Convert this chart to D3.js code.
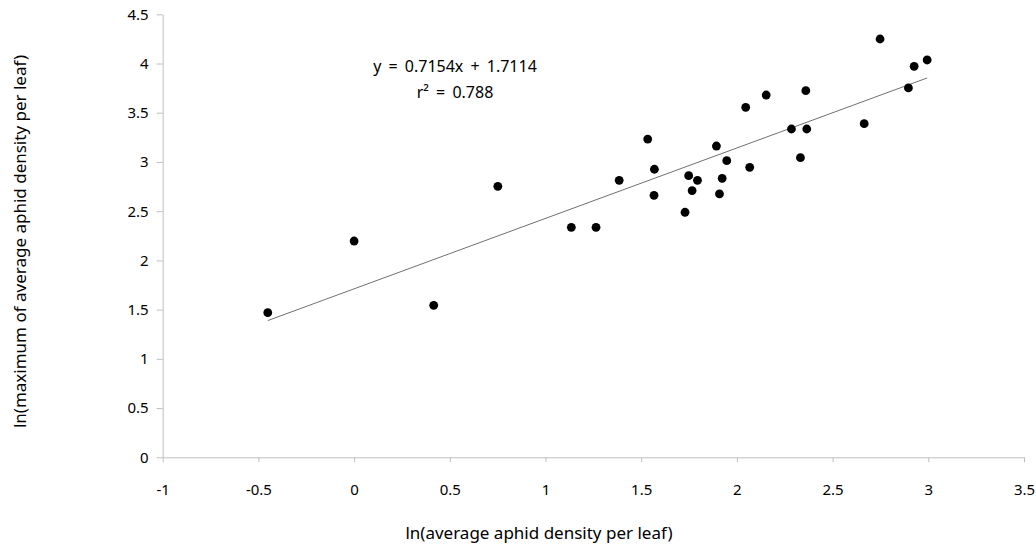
<!DOCTYPE html>
<html>
<head>
<meta charset="utf-8">
<script src="https://cdn.jsdelivr.net/npm/d3@7"></script>
<style>
  html, body { margin: 0; padding: 0; background: #fff; }
  svg { display: block; }
  text { font-family: "Noto Sans", "DejaVu Sans", sans-serif; fill: #000; }
</style>
</head>
<body>
<svg id="chart" width="1036" height="548"></svg>
<script>
// ln(average aphid density per leaf)
const avgDensity = [-0.451, 0.0, 0.416, 0.751, 1.135, 1.264, 1.385, 1.534, 1.569, 1.567,
  1.729, 1.748, 1.766, 1.794, 1.893, 1.909, 1.923, 1.947, 2.046, 2.067,
  2.153, 2.285, 2.332, 2.360, 2.365, 2.665, 2.748, 2.896, 2.926, 2.994];
// ln(maximum of average aphid density per leaf)
const maxDensity = [1.469, 2.197, 1.544, 2.753, 2.336, 2.336, 2.814, 3.233, 2.926, 2.661,
  2.489, 2.861, 2.709, 2.814, 3.162, 2.675, 2.834, 3.013, 3.555, 2.946,
  3.680, 3.335, 3.044, 3.724, 3.335, 3.389, 4.249, 3.752, 3.972, 4.036];

const xTicks = [-1, -0.5, 0, 0.5, 1, 1.5, 2, 2.5, 3, 3.5];
const yTicks = [0, 0.5, 1, 1.5, 2, 2.5, 3, 3.5, 4, 4.5];

// fitted regression
const slope = 0.7154, intercept = 1.7114;
const eqLabel = "y = 0.7154x + 1.7114";
const r2Label = "r² = 0.788";

const svg = d3.select("#chart");
const plot = { left: 162.7, right: 1024, top: 14.3, bottom: 457.3 };

const x = d3.scaleLinear().domain([-1, 3.5]).range([plot.left, plot.right]);
const y = d3.scaleLinear().domain([0, 4.5]).range([plot.bottom, plot.top]);

const axisColor = "#bfbfbf";

// x axis
const gx = svg.append("g").attr("transform", `translate(0,${plot.bottom})`)
  .call(d3.axisBottom(x).tickValues(xTicks).tickSize(5).tickSizeOuter(0)
    .tickFormat(d => String(d)));
gx.select(".domain").attr("stroke", axisColor);
gx.selectAll(".tick line").attr("stroke", axisColor);
gx.selectAll(".tick text").attr("font-size", 15).attr("dy", 0).attr("y", 38)
  .attr("font-family", "'Noto Sans', sans-serif");

// y axis
const gy = svg.append("g").attr("transform", `translate(${plot.left},0)`)
  .call(d3.axisLeft(y).tickValues(yTicks).tickSize(6).tickSizeOuter(0)
    .tickFormat(d => String(d)));
gy.select(".domain").attr("stroke", axisColor);
gy.selectAll(".tick line").attr("stroke", axisColor);
gy.selectAll(".tick text").attr("font-size", 15).attr("x", -14)
  .attr("font-family", "'Noto Sans', sans-serif");

// trendline across the observed range
const xr = d3.extent(avgDensity);
svg.append("line")
  .attr("x1", x(xr[0])).attr("y1", y(slope * xr[0] + intercept))
  .attr("x2", x(xr[1])).attr("y2", y(slope * xr[1] + intercept))
  .attr("stroke", "#707070").attr("stroke-width", 1);

// observations
svg.append("g").selectAll("circle")
  .data(d3.range(avgDensity.length))
  .join("circle")
  .attr("cx", i => x(avgDensity[i]))
  .attr("cy", i => y(maxDensity[i]))
  .attr("r", 4.4)
  .attr("fill", "#000");

// regression annotation
svg.append("text").attr("x", 455).attr("y", 72).attr("text-anchor", "middle")
  .attr("font-size", 16).attr("word-spacing", 3).text(eqLabel);
svg.append("text").attr("x", 455).attr("y", 98).attr("text-anchor", "middle")
  .attr("font-size", 16).attr("word-spacing", 3).text(r2Label);

// axis titles
svg.append("text").attr("x", 539).attr("y", 539)
  .attr("text-anchor", "middle").attr("font-size", 17)
  .text("ln(average aphid density per leaf)");
svg.append("text")
  .attr("transform", `translate(26,241.5) rotate(-90)`)
  .attr("text-anchor", "middle").attr("font-size", 17)
  .text("ln(maximum of average aphid density per leaf)");
</script>
</body>
</html>
